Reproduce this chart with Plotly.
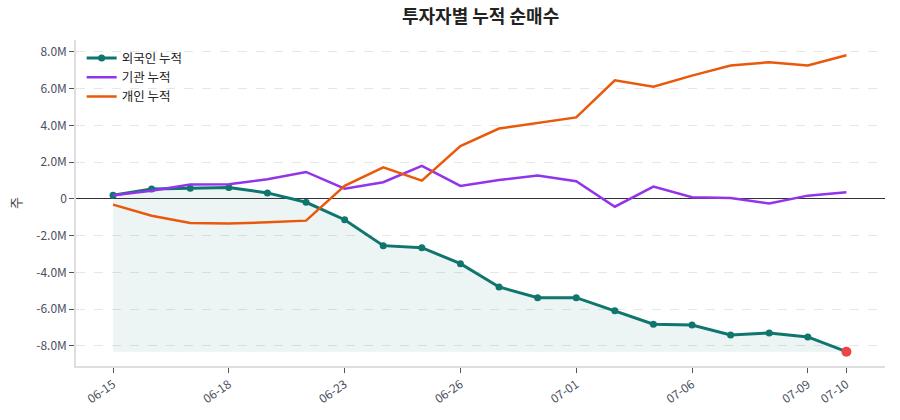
import plotly.graph_objects as go

dates = ["06-15", "06-16", "06-17", "06-18", "06-19", "06-22", "06-23", "06-24", "06-25", "06-26",
         "06-29", "06-30", "07-01", "07-02", "07-03", "07-06", "07-07", "07-08", "07-09", "07-10"]
foreign = [0.20, 0.54, 0.58, 0.62, 0.33, -0.18, -1.13, -2.54, -2.65, -3.52,
           -4.79, -5.37, -5.37, -6.08, -6.82, -6.86, -7.40, -7.29, -7.51, -8.31]
institution = [0.20, 0.45, 0.78, 0.80, 1.07, 1.47, 0.56, 0.91, 1.80, 0.71,
               1.03, 1.27, 0.96, -0.42, 0.67, 0.09, 0.05, -0.25, 0.18, 0.36]
individual = [-0.31, -0.91, -1.31, -1.34, -1.27, -1.18, 0.71, 1.72, 1.00, 2.88,
              3.83, 4.15, 4.44, 6.46, 6.11, 6.71, 7.26, 7.44, 7.26, 7.82]
tick_dates = ["06-15", "06-18", "06-23", "06-26", "07-01", "07-06", "07-09", "07-10"]
y_ticks = [-8, -6, -4, -2, 0, 2, 4, 6, 8]
y_ticktext = ["-8.0M", "-6.0M", "-4.0M", "-2.0M", "0", "2.0M", "4.0M", "6.0M", "8.0M"]

M = 1_000_000
fv = [v * M for v in foreign]
iv = [v * M for v in institution]
pv = [v * M for v in individual]
base = min(fv)

TEAL = "#0f766e"
PURPLE = "#9333ea"
ORANGE = "#ea580c"
FONT = "Noto Sans CJK KR"

fig = go.Figure()
fig.add_trace(go.Scatter(x=dates, y=[base] * len(dates), mode="lines",
                         line=dict(width=0), hoverinfo="skip", showlegend=False))
fig.add_trace(go.Scatter(x=dates, y=fv, mode="lines", line=dict(width=0), hoverinfo="skip",
                         showlegend=False, fill="tonexty", fillcolor="rgba(15,118,110,0.08)"))
fig.add_trace(go.Scatter(x=dates, y=fv, mode="lines+markers", name="외국인 누적",
                         line=dict(color=TEAL, width=3), marker=dict(size=7, color=TEAL)))
fig.add_trace(go.Scatter(x=dates, y=iv, mode="lines", name="기관 누적",
                         line=dict(color=PURPLE, width=2.5)))
fig.add_trace(go.Scatter(x=dates, y=pv, mode="lines", name="개인 누적",
                         line=dict(color=ORANGE, width=2.5)))
fig.add_trace(go.Scatter(x=[dates[-1]], y=[fv[-1]], mode="markers", showlegend=False,
                         marker=dict(size=10, color="#ef4444")))

fig.update_layout(
    width=900, height=420,
    margin=dict(l=76, r=15, t=40, b=54),
    paper_bgcolor="white", plot_bgcolor="white",
    font=dict(family=FONT, size=12, color="#444"),
    title=dict(text="<b>투자자별 누적 순매수</b>", x=0.534, xanchor="center", y=0.975, yanchor="top",
               font=dict(size=18, color="#222", family=FONT)),
    legend=dict(x=0.007, y=0.99, xanchor="left", yanchor="top", bgcolor="rgba(0,0,0,0)",
                traceorder="normal", font=dict(size=12.5, color="#222")),
    showlegend=True,
)
fig.update_xaxes(type="category", range=[-0.96, 20.0], tickmode="array", tickvals=tick_dates,
                 ticktext=tick_dates, tickangle=-35, showgrid=False, showline=True,
                 linecolor="#dddde2", linewidth=1.5, ticks="outside", tickcolor="#555",
                 ticklen=5, tickfont=dict(size=12, color="#4a5060"))
fig.update_yaxes(range=[-9.09 * M, 8.65 * M], tickmode="array", tickvals=[v * M for v in y_ticks],
                 ticktext=y_ticktext, showgrid=True, gridcolor="#e6e6e6", griddash="dash",
                 zeroline=True, zerolinecolor="#333", zerolinewidth=1, showline=True,
                 linecolor="#dddde2", linewidth=1.5, ticks="outside", tickcolor="#555", ticklen=5,
                 tickfont=dict(size=12, color="#4a5060"),
                 title=dict(text="주", font=dict(size=13, color="#444"), standoff=12))

fig.write_html("out.html")
